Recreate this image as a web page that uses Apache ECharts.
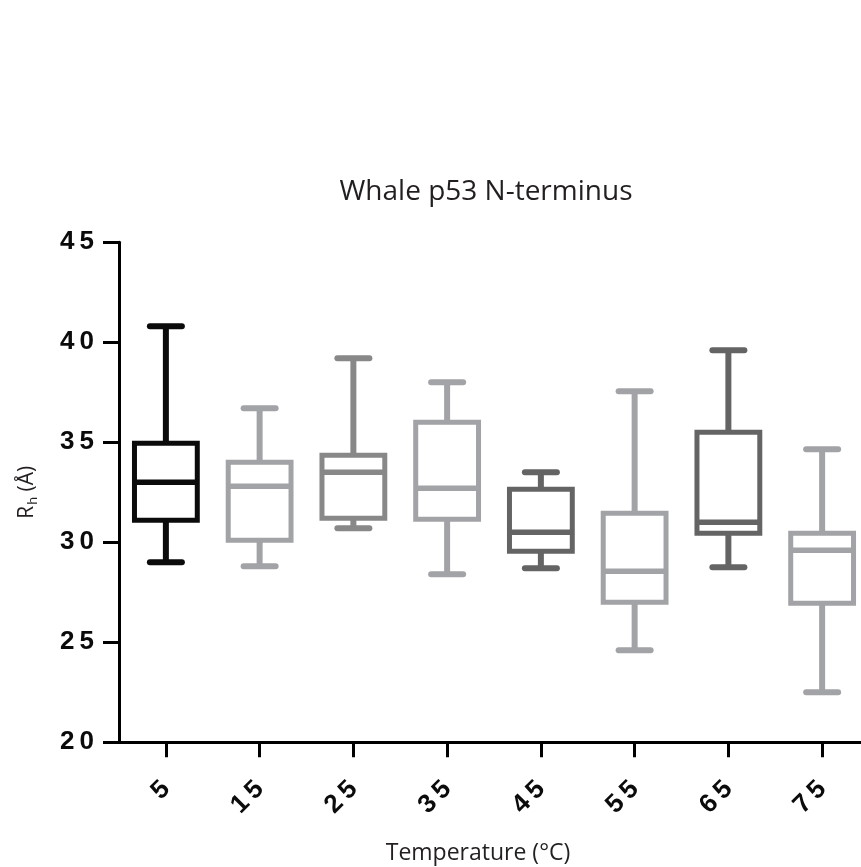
<!DOCTYPE html>
<html>
<head>
<meta charset="utf-8">
<title>Whale p53 N-terminus</title>
<script src="https://cdn.jsdelivr.net/npm/echarts@6/dist/echarts.min.js"></script>
<style>
  html, body { margin: 0; padding: 0; background: #ffffff; }
  #chart { width: 861px; height: 867px; }
</style>
</head>
<body>
<div id="chart"></div>
<script>
// Hydrodynamic radius (Å) by temperature (°C): five-number summaries per group
const categories  = ['5', '15', '25', '35', '45', '55', '65', '75'];
const whiskerLow  = [29.0, 28.8, 30.7, 28.4, 28.7, 24.6, 28.75, 22.5];
const q1          = [31.1, 30.1, 31.2, 31.15, 29.55, 27.0, 30.45, 26.95];
const median      = [33.0, 32.8, 33.5, 32.7, 30.5, 28.55, 31.0, 29.6];
const q3          = [34.95, 34.0, 34.35, 36.0, 32.65, 31.45, 35.5, 30.45];
const whiskerHigh = [40.8, 36.7, 39.2, 38.0, 33.5, 37.55, 39.6, 34.65];

// Value axis range and step
const yMin = 20, yMax = 45, yStep = 5;

// Stroke colour for each box
const boxColors = ['#0b0b0b', '#a2a3a7', '#888888', '#a2a3a7', '#646464', '#a2a3a7', '#646464', '#a2a3a7'];

const tickFont = '"Liberation Sans", Arial, sans-serif';
const textFont = '"Open Sans", "Noto Sans", sans-serif';

// digits drawn with a little extra tracking
const spaced = s => String(s).split('').join('\u2009');

const boxData = categories.map((c, i) => [i, whiskerLow[i], q1[i], median[i], q3[i], whiskerHigh[i]]);

function renderBox(params, api) {
  const i = api.value(0);
  const x = api.coord([i, api.value(3)])[0];
  const pLow = api.coord([i, api.value(1)])[1];
  const pQ1 = api.coord([i, api.value(2)])[1];
  const pMed = api.coord([i, api.value(3)])[1];
  const pQ3 = api.coord([i, api.value(4)])[1];
  const pHigh = api.coord([i, api.value(5)])[1];
  const band = api.size([1, 0])[0];
  const half = band * 0.335;
  const cap = 16;
  const color = boxColors[i];
  const seg = (x1, y1, x2, y2, w, capStyle) => ({
    type: 'line',
    shape: { x1, y1, x2, y2 },
    style: { stroke: color, lineWidth: w, lineCap: capStyle || 'butt', fill: null }
  });
  return {
    type: 'group',
    children: [
      seg(x, pHigh, x, pQ3, 6),
      seg(x - cap, pHigh, x + cap, pHigh, 6, 'round'),
      seg(x, pQ1, x, pLow, 6),
      seg(x - cap, pLow, x + cap, pLow, 6, 'round'),
      {
        type: 'rect',
        shape: { x: x - half, y: pQ3, width: 2 * half, height: pQ1 - pQ3 },
        style: { fill: 'none', stroke: color, lineWidth: 5 }
      },
      seg(x - half, pMed, x + half, pMed, 5.5)
    ]
  };
}

const chart = echarts.init(document.getElementById('chart'), null, { renderer: 'canvas' });

chart.setOption({
  backgroundColor: '#ffffff',
  animation: false,
  title: {
    text: 'Whale p53 N-terminus',
    left: 481,
    top: 173,
    textAlign: 'center',
    textStyle: { fontFamily: textFont, fontSize: 28, fontWeight: 'normal', color: '#231f20' }
  },
  grid: {
    left: 119, top: 242.3, width: 750, height: 500,
    containLabel: false,
    outerBoundsMode: 'none'
  },
  xAxis: {
    type: 'category',
    data: categories,
    boundaryGap: true,
    name: 'Temperature (°C)',
    nameLocation: 'middle',
    nameGap: 100,
    nameTextStyle: { fontFamily: textFont, fontSize: 23, color: '#231f20', padding: [0, 32, 0, 0] },
    axisLine: { show: true, lineStyle: { color: '#000', width: 3 } },
    axisTick: { show: true, alignWithLabel: true, length: 15, lineStyle: { color: '#000', width: 3 } },
    axisLabel: {
      rotate: 45,
      margin: 43,
      interval: 0,
      fontFamily: tickFont,
      fontWeight: 'bold',
      fontSize: 26,
      color: '#0b0b0b',
      formatter: v => spaced(v)
    },
    splitLine: { show: false }
  },
  yAxis: {
    type: 'value',
    min: yMin,
    max: yMax,
    interval: yStep,
    name: '{a|R}{s|h}{a| (Å)}',
    nameLocation: 'middle',
    nameGap: 77,
    nameRotate: 90,
    nameTextStyle: {
      fontFamily: textFont,
      color: '#231f20',
      rich: {
        a: { fontFamily: textFont, fontSize: 21, color: '#231f20', lineHeight: 30 },
        s: { fontFamily: textFont, fontSize: 13, color: '#231f20', lineHeight: 30, padding: [12, 0, 0, 1] }
      }
    },
    axisLine: { show: true, lineStyle: { color: '#000', width: 3 } },
    axisTick: { show: true, length: 16, lineStyle: { color: '#000', width: 3 } },
    axisLabel: {
      margin: 25,
      fontFamily: tickFont,
      fontWeight: 'bold',
      fontSize: 26,
      color: '#0b0b0b',
      formatter: v => spaced(v)
    },
    splitLine: { show: false }
  },
  series: [{
    type: 'custom',
    name: 'Rh',
    renderItem: renderBox,
    encode: { x: 0, y: [1, 2, 3, 4, 5] },
    data: boxData,
    clip: false
  }]
});
</script>
</body>
</html>
